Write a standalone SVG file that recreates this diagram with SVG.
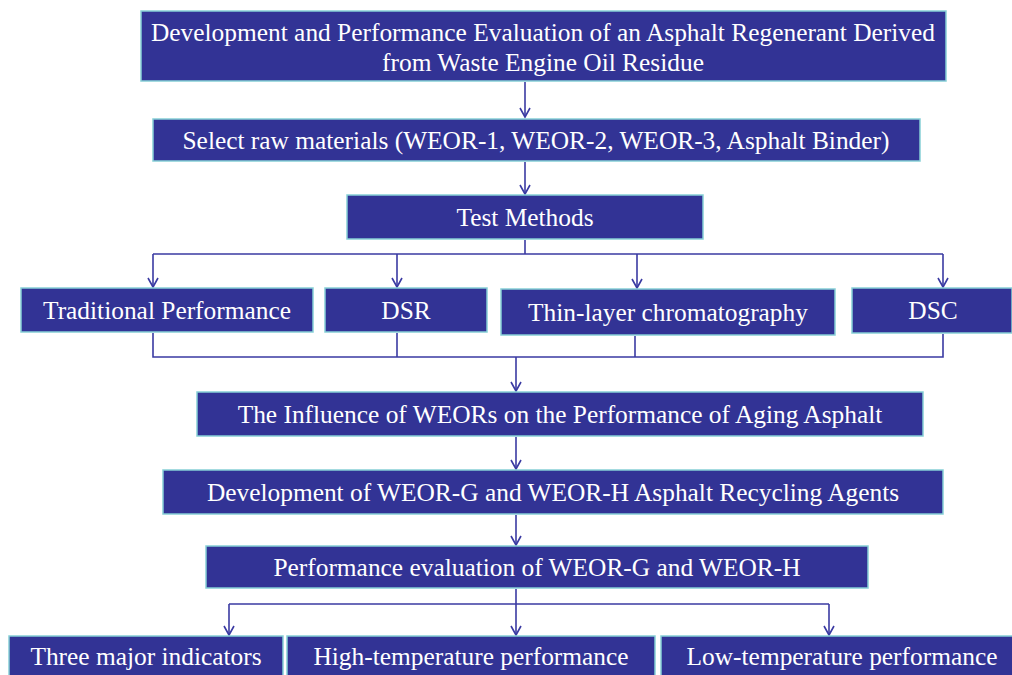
<svg xmlns="http://www.w3.org/2000/svg" width="1012" height="675" viewBox="0 0 1012 675">
<style>
.box{fill:#323395;stroke:#86cfd6;stroke-width:1.5}
.t{fill:#ffffff;font-family:"Liberation Serif","Times New Roman",serif;font-size:25.4px;text-anchor:middle}
.c{fill:none;stroke:#3a3aa2;stroke-width:1.6}
</style>
<defs>
<marker id="ah" markerUnits="userSpaceOnUse" markerWidth="14" markerHeight="14" viewBox="-11 -7 14 14" refX="0" refY="0" orient="auto" overflow="visible">
<path d="M-9,-5 L0,0 L-9,5" fill="none" stroke="#3a3aa2" stroke-width="1.6"/>
</marker>
</defs>
<rect width="1012" height="675" fill="#ffffff"/>
<g id="connectors">
<path class="c" d="M525,82 V117" marker-end="url(#ah)"/>
<path class="c" d="M525,162 V194" marker-end="url(#ah)"/>
<path class="c" d="M525,240 V254"/>
<path class="c" d="M153,254 H943"/>
<path class="c" d="M153,254 V287" marker-end="url(#ah)"/>
<path class="c" d="M397,254 V287" marker-end="url(#ah)"/>
<path class="c" d="M637,254 V288" marker-end="url(#ah)"/>
<path class="c" d="M943,254 V287" marker-end="url(#ah)"/>
<path class="c" d="M153,333 V357 H943 V334"/>
<path class="c" d="M397,333 V357"/>
<path class="c" d="M635,336 V357"/>
<path class="c" d="M516,357 V391" marker-end="url(#ah)"/>
<path class="c" d="M516,437 V469" marker-end="url(#ah)"/>
<path class="c" d="M516,515 V545" marker-end="url(#ah)"/>
<path class="c" d="M516,589 V604"/>
<path class="c" d="M229,604 H829"/>
<path class="c" d="M229,604 V635" marker-end="url(#ah)"/>
<path class="c" d="M516,604 V635" marker-end="url(#ah)"/>
<path class="c" d="M829,604 V635" marker-end="url(#ah)"/>
</g>
<g id="n-title">
<rect class="box" x="141" y="11" width="805" height="70"/>
<text class="t" x="543" y="41">Development and Performance Evaluation of an Asphalt Regenerant Derived</text>
<text class="t" x="543" y="71">from Waste Engine Oil Residue</text>
</g>
<g id="n-select">
<rect class="box" x="153" y="119" width="767" height="42"/>
<text class="t" x="536" y="149">Select raw materials (WEOR-1, WEOR-2, WEOR-3, Asphalt Binder)</text>
</g>
<g id="n-test">
<rect class="box" x="347" y="195" width="356" height="44"/>
<text class="t" x="525" y="226">Test Methods</text>
</g>
<g id="n-trad">
<rect class="box" x="21" y="288" width="292" height="44"/>
<text class="t" x="167" y="319">Traditional Performance</text>
</g>
<g id="n-dsr">
<rect class="box" x="325" y="288" width="162" height="44"/>
<text class="t" x="406" y="319">DSR</text>
</g>
<g id="n-tlc">
<rect class="box" x="501" y="289" width="334" height="46"/>
<text class="t" x="668" y="321">Thin-layer chromatography</text>
</g>
<g id="n-dsc">
<rect class="box" x="852" y="288" width="160" height="45"/>
<text class="t" x="933" y="319">DSC</text>
</g>
<g id="n-influence">
<rect class="box" x="197" y="392" width="726" height="44"/>
<text class="t" x="560" y="423">The Influence of WEORs on the Performance of Aging Asphalt</text>
</g>
<g id="n-develop">
<rect class="box" x="163" y="470" width="780" height="44"/>
<text class="t" x="553" y="501">Development of WEOR-G and WEOR-H Asphalt Recycling Agents</text>
</g>
<g id="n-perf">
<rect class="box" x="206" y="546" width="662" height="42"/>
<text class="t" x="537" y="576">Performance evaluation of WEOR-G and WEOR-H</text>
</g>
<g id="n-three">
<rect class="box" x="9" y="636" width="274" height="50"/>
<text class="t" x="146" y="665">Three major indicators</text>
</g>
<g id="n-high">
<rect class="box" x="287" y="636" width="368" height="50"/>
<text class="t" x="471" y="665">High-temperature performance</text>
</g>
<g id="n-low">
<rect class="box" x="661" y="636" width="360" height="50"/>
<text class="t" x="842" y="665">Low-temperature performance</text>
</g>
</svg>
